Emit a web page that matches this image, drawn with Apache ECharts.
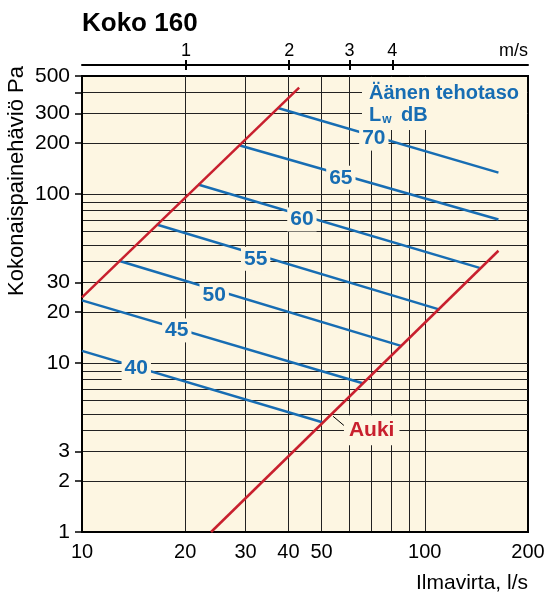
<!DOCTYPE html>
<html><head><meta charset="utf-8">
<script src="https://cdn.jsdelivr.net/npm/echarts@6/dist/echarts.min.js"></script>
<style>html,body{margin:0;padding:0;background:#fff}#c{width:550px;height:596px}</style>
</head><body><div id="c"></div>
<script>
// ---- data ----
const chartTitle = 'Koko 160';
const xName = 'Ilmavirta, l/s';
const yName = 'Kokonaispainehäviö Pa';
const topName = 'm/s';
const xMin = 10, xMax = 200;
const yMin = 1, yMax = 500;
const xLabelValues = [10, 20, 30, 40, 50, 100, 200];
const xGridValues = [20, 30, 40, 50, 60, 70, 80, 90, 100];
const yLabelValues = [1, 2, 3, 10, 20, 30, 100, 200, 300, 500];
const yTickValues = [1, 2, 3, 10, 20, 30, 100, 200, 300, 400, 500];
const yGridValues = [2, 3, 4, 5, 6, 7, 8, 9, 10, 20, 30, 40, 50, 60, 70, 80, 90, 100, 200, 300, 400];
const velocityTicks = [1, 2, 3, 4];
const litresPerMs = 20.1; // flow (l/s) at 1 m/s in a 160 mm duct

const closedLine = [[10, 24.5], [43.0, 427]];
const openLine = [[23.8, 1], [164, 46.2]];
const lw40 = [[10, 11.8], [50.5, 4.45]];
const lw45 = [[10, 23.5], [65.9, 7.6]];
const lw50 = [[12.8, 40.3], [85.7, 12.6]];
const lw55 = [[16.5, 66.1], [110.6, 20.7]];
const lw60 = [[21.8, 114], [144.5, 36.6]];
const lw65 = [[28.9, 194], [164, 70.8]];
const lw70 = [[37.3, 323], [164, 134]];
const levelNames = ['40', '45', '50', '55', '60', '65', '70'];
const levelLabelPoints = [[14.4, 9.33], [18.9, 15.6], [24.3, 25.2], [32.1, 41.4], [43.8, 70.8], [56.9, 125], [71.0, 213]];
const openName = 'Auki';
const openLabelPoint = [70, 4.0];
const openLeader = [[54.0, 4.84], [58.1, 4.27]];
const legendLine1 = 'Äänen tehotaso';

// ---- styles ----
const FONT = "'Liberation Sans', Arial, Helvetica, sans-serif";
const CREAM = '#fdf6e2';
const BLUE = '#176db3';
const RED = '#c8202e';
const GRID = '#222222';

const blueSeries = [lw40, lw45, lw50, lw55, lw60, lw65, lw70].map((d, i) => ({
  type: 'line', name: levelNames[i], data: d, xAxisIndex: 0, yAxisIndex: 0,
  symbol: 'none', lineStyle: { color: BLUE, width: 2.5 }, z: 3, silent: true
}));

const chart = echarts.init(document.getElementById('c'), null, { renderer: 'canvas' });
chart.setOption({
  animation: false,
  backgroundColor: '#fff',
  textStyle: { fontFamily: FONT },
  title: {
    text: chartTitle, left: 82, top: 11, padding: 0,
    textStyle: { fontFamily: FONT, fontSize: 26, fontWeight: 'bold', color: '#000' }
  },
  grid: {
    left: 82, right: 22, top: 76, bottom: 64,
    show: true, backgroundColor: CREAM, borderColor: '#000', borderWidth: 2
  },
  xAxis: [
    {
      type: 'log', logBase: 10, min: xMin, max: xMax, position: 'bottom',
      axisLine: { show: true, lineStyle: { color: '#000', width: 2 } },
      axisTick: { show: false, customValues: xGridValues },
      axisLabel: { customValues: xLabelValues, color: '#000', fontSize: 20, fontFamily: FONT, margin: 10 },
      splitLine: { show: true, lineStyle: { color: GRID, width: 1 } },
      minorTick: { show: false }, minorSplitLine: { show: false },
      name: xName, nameLocation: 'end', nameGap: 0,
      nameTextStyle: { align: 'right', verticalAlign: 'top', padding: [41, 0, 0, 0], fontSize: 21, color: '#000', fontFamily: FONT }
    },
    {
      type: 'log', logBase: 10, min: xMin / litresPerMs, max: xMax / litresPerMs, position: 'top', offset: 11,
      axisLine: { show: true, onZero: false, lineStyle: { color: '#000', width: 2 } },
      axisTick: { show: true, customValues: velocityTicks, length: 5, lineStyle: { color: '#000', width: 2 } },
      axisLabel: { customValues: velocityTicks, color: '#000', fontSize: 18, fontFamily: FONT, margin: 5 },
      splitLine: { show: false },
      name: topName, nameLocation: 'end', nameGap: 0,
      nameTextStyle: { align: 'right', verticalAlign: 'bottom', padding: [0, 0, 5, 0], fontSize: 18, color: '#000', fontFamily: FONT }
    },
    {
      type: 'log', logBase: 10, min: xMin / litresPerMs, max: xMax / litresPerMs, position: 'top', offset: 6,
      axisLine: { show: false },
      axisTick: { show: true, customValues: velocityTicks, length: 5, lineStyle: { color: '#000', width: 2 } },
      axisLabel: { show: false },
      splitLine: { show: false }
    }
  ],
  yAxis: [
    {
      type: 'log', logBase: 10, min: yMin, max: yMax, position: 'left',
      axisLine: { show: true, lineStyle: { color: '#000', width: 2 } },
      axisTick: { show: true, customValues: yTickValues, length: 7, lineStyle: { color: '#000', width: 1.5 } },
      axisLabel: { customValues: yLabelValues, color: '#000', fontSize: 21, fontFamily: FONT, margin: 12 },
      splitLine: { show: false }
    },
    {
      type: 'log', logBase: 10, min: yMin, max: yMax, position: 'left',
      axisLine: { show: false },
      axisTick: { show: false, customValues: yGridValues },
      axisLabel: { show: false },
      splitLine: { show: true, lineStyle: { color: GRID, width: 1 } }
    }
  ],
  graphic: [
    {
      type: 'text', x: 17, y: 181, rotation: Math.PI / 2, z: 100,
      style: { text: yName, font: '22px ' + FONT, fill: '#000', textAlign: 'center', textVerticalAlign: 'middle' }
    },
    {
      type: 'rect', z: 50, shape: { x: 362, y: 77, width: 165, height: 53 }, style: { fill: CREAM }
    },
    {
      type: 'text', x: 369, y: 82, z: 60,
      style: {
        text: '{a|' + legendLine1 + '}\n{a|L}{s|w}{a| dB}',
        fill: BLUE, textAlign: 'left', textVerticalAlign: 'top',
        rich: {
          a: { fontFamily: FONT, fontSize: 20, fontWeight: 'bold', fill: BLUE, lineHeight: 22 },
          s: { fontFamily: FONT, fontSize: 12, fontWeight: 'bold', fill: BLUE, lineHeight: 22, verticalAlign: 'bottom', padding: [6, 4, 0, 1] }
        }
      }
    }
  ],
  series: blueSeries.concat([
    {
      type: 'line', name: 'closed', data: closedLine, symbol: 'none',
      lineStyle: { color: RED, width: 2.5 }, z: 4, silent: true
    },
    {
      type: 'line', name: openName, data: openLine, symbol: 'none',
      lineStyle: { color: RED, width: 2.5 }, z: 4, silent: true
    },
    {
      type: 'line', name: 'leader', data: openLeader, symbol: 'none',
      lineStyle: { color: '#000', width: 1 }, z: 4, silent: true
    },
    {
      type: 'scatter', name: 'levels', z: 10, silent: true,
      data: levelLabelPoints.map((p, i) => [p[0], p[1], levelNames[i]]),
      symbolSize: 1, itemStyle: { color: 'rgba(0,0,0,0)', opacity: 1 },
      label: {
        show: true, position: 'inside', formatter: p => p.data[2],
        color: BLUE, fontSize: 21, fontWeight: 'bold', fontFamily: FONT,
        textBorderWidth: 0, opacity: 1,
        backgroundColor: CREAM, padding: [2, 3, 1, 3]
      }
    },
    {
      type: 'scatter', name: 'openLabel', z: 10, silent: true,
      data: [[openLabelPoint[0], openLabelPoint[1], openName]],
      symbolSize: 1, itemStyle: { color: 'rgba(0,0,0,0)', opacity: 1 },
      label: {
        show: true, position: 'inside', formatter: p => p.data[2],
        color: RED, fontSize: 21, fontWeight: 'bold', fontFamily: FONT,
        textBorderWidth: 0, opacity: 1,
        backgroundColor: CREAM, padding: [5, 5, 4, 5]
      }
    }
  ])
});
</script>
</body></html>
